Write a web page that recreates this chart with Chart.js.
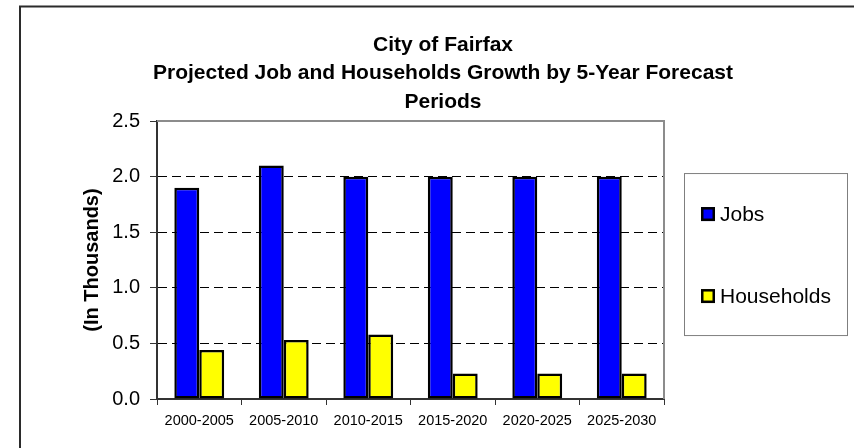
<!DOCTYPE html>
<html><head><meta charset="utf-8">
<script src="https://cdn.jsdelivr.net/npm/chart.js@4"></script>
<style>html,body{margin:0;padding:0;background:#fff}#wrap{width:854px;height:448px}</style>
</head><body><div id="wrap"><canvas id="c" width="854" height="448"></canvas></div>
<script>
const categories = ['2000-2005','2005-2010','2010-2015','2015-2020','2020-2025','2025-2030'];
const jobs = [1.9, 2.1, 2.0, 2.0, 2.0, 2.0];
const households = [0.44, 0.53, 0.58, 0.23, 0.23, 0.23];
const yTickLabels = ['0.0','0.5','1.0','1.5','2.0','2.5'];
const titleLines = ['City of Fairfax','Projected Job and Households Growth by 5-Year Forecast','Periods'];
const yAxisTitle = '(In Thousands)';
const seriesNames = ['Jobs','Households'];
const FONT = "'Liberation Sans', Arial, Helvetica, sans-serif";

const decor = {
  id: 'decor',
  beforeDraw(chart){
    const ctx = chart.ctx; ctx.save(); ctx.fillStyle = '#fff'; ctx.fillRect(0,0,chart.width,chart.height); ctx.restore();
  },
  afterDraw(chart){
    const ctx = chart.ctx, a = chart.chartArea;
    ctx.save();
    // outer frame
    ctx.strokeStyle = '#2b2b2b'; ctx.lineWidth = 2;
    ctx.strokeRect(20, 6.5, chart.width + 10, chart.height + 10);
    // plot area top/right border
    ctx.strokeStyle = '#8c8c8c'; ctx.lineWidth = 2;
    ctx.beginPath(); ctx.moveTo(a.left, a.top); ctx.lineTo(a.right, a.top); ctx.lineTo(a.right, a.bottom); ctx.stroke();
    // legend box
    const lx = a.right + 20, ly = a.top + 52, lw = 163, lh = 162;
    ctx.lineWidth = 1; ctx.strokeStyle = '#7f7f7f';
    ctx.strokeRect(lx + 0.5, ly + 0.5, lw, lh);
    ctx.font = '21px ' + FONT; ctx.textBaseline = 'middle'; ctx.textAlign = 'left';
    chart.data.datasets.forEach((d, i) => {
      const cy = a.top + 93 + i * 82;
      const bx = lx + 17;
      ctx.fillStyle = d.backgroundColor; ctx.fillRect(bx, cy - 7, 14, 14);
      ctx.strokeStyle = '#000'; ctx.lineWidth = 2.5; ctx.strokeRect(bx + 1.25, cy - 5.75, 11.5, 11.5);
      ctx.fillStyle = '#000';
      ctx.fillText(d.label, bx + 19, cy + 1);
    });
    ctx.restore();
  }
};

new Chart(document.getElementById('c'), {
  type: 'bar',
  data: {
    labels: categories,
    datasets: [
      { label: seriesNames[0], data: jobs, backgroundColor: '#0000ff', borderColor: '#000', borderWidth: 2.5, borderSkipped: false, categoryPercentage: 0.59, barPercentage: 1.0 },
      { label: seriesNames[1], data: households, backgroundColor: '#ffff00', borderColor: '#000', borderWidth: 2.5, borderSkipped: false, categoryPercentage: 0.59, barPercentage: 1.0 }
    ]
  },
  options: {
    responsive: false,
    animation: false,
    layout: { padding: { top: 10, left: 32, right: 0, bottom: 0 } },
    plugins: {
      title: { display: true, text: titleLines, color: '#000', font: { family: FONT, size: 21, weight: 'bold', lineHeight: 1.35 }, padding: { top: 21, bottom: 5 } },
      legend: { display: true, position: 'right', labels: { filter: () => false, padding: 180 } },
      tooltip: { enabled: false }
    },
    scales: {
      x: {
        grid: { display: true, drawOnChartArea: false, drawTicks: true, tickLength: 6, offset: true, tickColor: '#333' },
        border: { display: true, color: '#333', width: 2 },
        ticks: { color: '#000', font: { family: FONT, size: 14.5 }, padding: 7, maxRotation: 0 },
        afterFit(s){ s.height = 49; }
      },
      y: {
        min: 0, max: 2.5,
        grid: { color: c => (c.tick && (c.tick.value === 2.5 || c.tick.value === 0)) ? 'rgba(0,0,0,0)' : '#000', lineWidth: 1, tickLength: 7, tickColor: '#333' },
        border: { display: true, color: '#333', width: 2, dash: [9, 5] },
        ticks: { stepSize: 0.5, color: '#000', font: { family: FONT, size: 20 }, padding: 10, callback: (v, i) => yTickLabels[i] },
        title: { display: true, text: yAxisTitle, color: '#000', font: { family: FONT, size: 20, weight: 'bold' }, padding: { top: 48, bottom: 0 } },
        afterFit(s){ s.width = 125; }
      }
    }
  },
  plugins: [decor]
});
</script></body></html>
